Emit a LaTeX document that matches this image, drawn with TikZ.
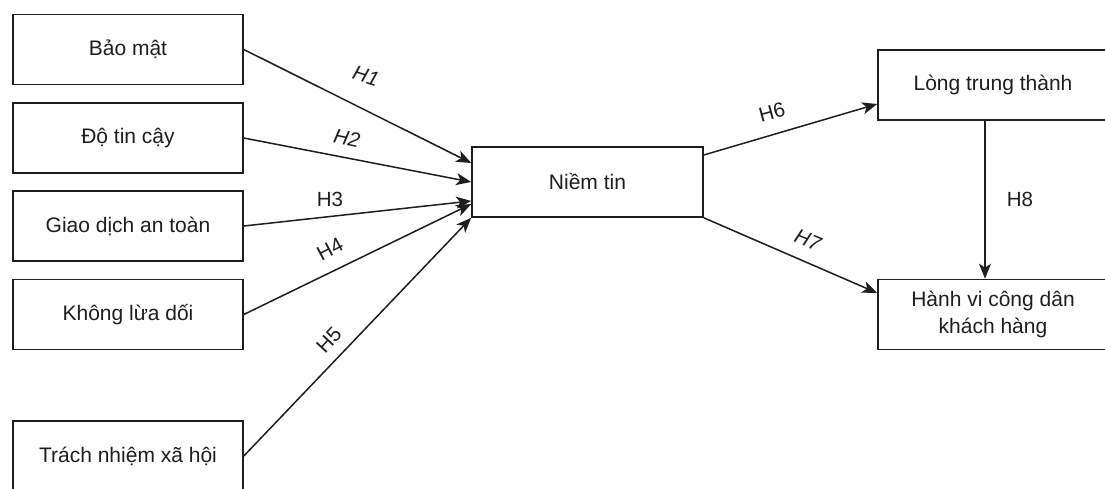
\documentclass[tikz,border=0pt]{standalone}
\usepackage{fontspec}
\setmainfont{Liberation Sans}
\usetikzlibrary{arrows.meta,calc}
\definecolor{ink}{HTML}{1e1e1e}
\tikzset{
  box/.style={draw=ink, line width=1.6pt, minimum width=230pt, minimum height=70pt, inner sep=0pt, align=center, text=ink, font=\fontsize{21}{26}\selectfont},
  conn/.style={draw=ink, line width=1.5pt, -{Stealth[length=15pt,width=12pt,inset=4pt]}},
  hlab/.style={text=ink, font=\fontsize{20.5}{24}\selectfont, inner sep=0pt}
}
\begin{document}
\begin{tikzpicture}[x=1pt,y=-1pt]
\useasboundingbox (0,0) rectangle (1105,488);
\fill[white] (0,0) rectangle (1105,488);
\clip (0,0) rectangle (1105,488);
\node[box] (bm)  at (128,49.5) {Bảo mật};
\node[box] (dtc) at (128,138) {Độ tin cậy};
\node[box] (gd)  at (128,226) {Giao dịch an toàn};
\node[box] (kld) at (128,314.5) {Không lừa dối};
\node[box] (tn)  at (128,456) {Trách nhiệm xã hội};
\node[box, minimum width=231pt] (nt) at (587.5,182) {Niềm tin};
\node[box] (ltt) at (993,85) {Lòng trung thành};
\node[box] (hv)  at (993,314.5) {Hành vi công dân\\[1pt]khách hàng};

\draw[conn] (bm.east)  -- ([yshift=19pt]nt.west);
\draw[conn] (dtc.east) -- (nt.west);
\draw[conn] (gd.east)  -- ([yshift=-19pt]nt.west);
\draw[conn] (kld.east) -- ([yshift=-22pt]nt.west);
\draw[conn] (tn.east)  -- (nt.south west);
\draw[conn] ([yshift=27pt]nt.east) -- ([yshift=-19pt]ltt.west);
\draw[conn] (nt.south east) -- ([yshift=21.5pt]hv.west);
\draw[conn] ([xshift=-8pt]ltt.south) -- ([xshift=-8pt]hv.north);

\node[hlab, rotate=-18] (l1) at (366,76) {\itshape H1};
\node[hlab, rotate=-12] (l2) at (347,138) {\itshape H2};
\node[hlab] (l3) at (330,199) {H3};
\node[hlab, rotate=28] (l4) at (330,249) {H4};
\node[hlab, rotate=47] (l5) at (329,340) {H5};
\node[hlab, rotate=15] (l6) at (772,112) {H6};
\node[hlab, rotate=-22] (l7) at (808,240) {\itshape H7};
\node[hlab] (l8) at (1020,199) {H8};
\end{tikzpicture}
\end{document}
